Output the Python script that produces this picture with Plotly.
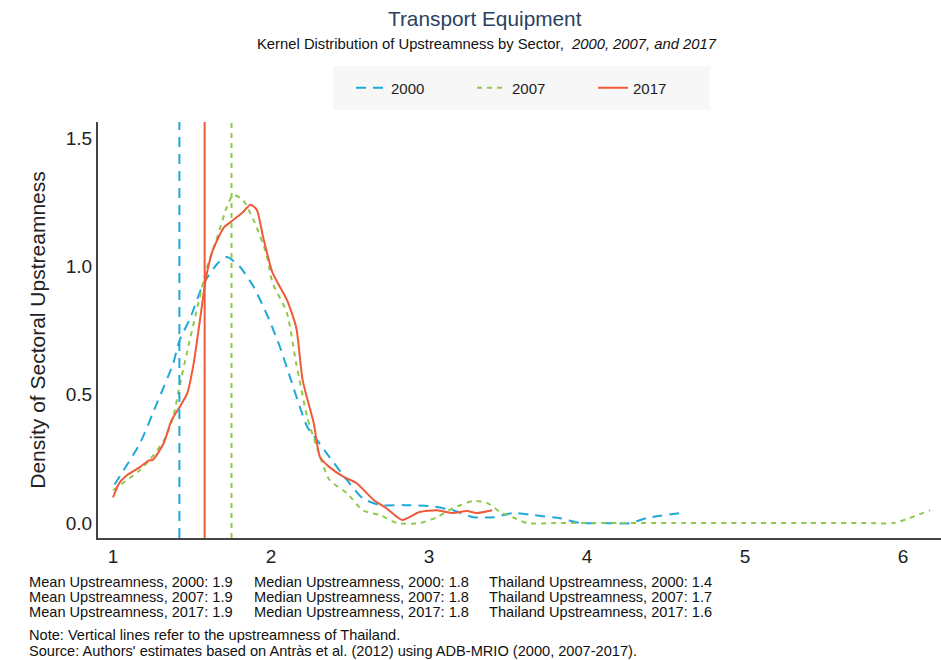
import plotly.graph_objects as go

# Kernel density estimates of sectoral upstreamness (x = upstreamness, y = density)
x_2000 = [1.01, 1.03, 1.17, 1.28, 1.38, 1.42, 1.49, 1.57, 1.66, 1.72, 1.80, 1.89, 1.99,
          2.06, 2.13, 2.23, 2.30, 2.37, 2.48, 2.58, 2.69, 2.84, 3.01, 3.15, 3.28, 3.41,
          3.53, 3.66, 3.83, 3.96, 4.10, 4.27, 4.38, 4.60]
y_2000 = [0.15, 0.17, 0.31, 0.47, 0.62, 0.71, 0.80, 0.93, 1.01, 1.036, 1.00, 0.92, 0.79,
          0.68, 0.55, 0.374, 0.316, 0.257, 0.168, 0.097, 0.07, 0.07, 0.066, 0.05, 0.023, 0.023,
          0.039, 0.031, 0.019, 0.0, 0.0, 0.0, 0.02, 0.04]

x_2007 = [1.00, 1.17, 1.23, 1.32, 1.38, 1.42, 1.47, 1.53, 1.59, 1.66, 1.72, 1.76, 1.82,
          1.89, 1.97, 2.01, 2.10, 2.16, 2.23, 2.29, 2.37, 2.48, 2.58, 2.69, 2.80, 2.94,
          3.05, 3.15, 3.28, 3.37, 3.45, 3.53, 3.62, 3.80, 4.20, 4.60, 5.00, 5.40, 5.80,
          5.94, 6.17]
y_2007 = [0.128, 0.206, 0.245, 0.32, 0.41, 0.53, 0.67, 0.83, 0.986, 1.114, 1.23, 1.278, 1.26,
          1.18, 1.05, 0.935, 0.82, 0.62, 0.41, 0.296, 0.168, 0.117, 0.05, 0.031, 0.0, 0.0,
          0.023, 0.058, 0.086, 0.078, 0.043, 0.023, 0.0, 0.0, 0.0, 0.0, 0.0, 0.0, 0.0,
          0.0, 0.05]

x_2017 = [1.00, 1.04, 1.09, 1.17, 1.23, 1.25, 1.32, 1.37, 1.42, 1.47, 1.51, 1.55, 1.59,
          1.63, 1.70, 1.76, 1.82, 1.87, 1.91, 1.95, 2.01, 2.10, 2.16, 2.20, 2.27, 2.31,
          2.37, 2.46, 2.54, 2.65, 2.73, 2.83, 2.94, 3.05, 3.15, 3.24, 3.30, 3.40]
y_2017 = [0.10, 0.156, 0.187, 0.218, 0.245, 0.245, 0.31, 0.40, 0.45, 0.506, 0.62, 0.79, 0.96,
          1.06, 1.15, 1.18, 1.21, 1.24, 1.22, 1.114, 0.974, 0.87, 0.76, 0.557, 0.39, 0.257,
          0.218, 0.18, 0.156, 0.09, 0.058, 0.012, 0.043, 0.05, 0.039, 0.047, 0.039, 0.05]

# Thailand's upstreamness per year (vertical reference lines)
thailand = {"2000": 1.42, "2007": 1.75, "2017": 1.58}

years = ["2000", "2007", "2017"]
colors = {"2000": "#1fa9d8", "2007": "#8fc94a", "2017": "#ef5a3a"}
dashes = {"2000": "10px,7px", "2007": "5px,5px", "2017": "solid"}
series = {"2000": (x_2000, y_2000), "2007": (x_2007, y_2007), "2017": (x_2017, y_2017)}

summary_mean = ["Mean Upstreamness, 2000: 1.9", "Mean Upstreamness, 2007: 1.9",
                "Mean Upstreamness, 2017: 1.9"]
summary_median = ["Median Upstreamness, 2000: 1.8", "Median Upstreamness, 2007: 1.8",
                  "Median Upstreamness, 2017: 1.8"]
summary_thai = ["Thailand Upstreamness, 2000: 1.4", "Thailand Upstreamness, 2007: 1.7",
                "Thailand Upstreamness, 2017: 1.6"]
notes = ["Note: Vertical lines refer to the upstreamness of Thailand.",
         "Source: Authors' estimates based on Antràs et al. (2012) using ADB-MRIO (2000, 2007-2017)."]

FONT = "Liberation Sans, Arial, sans-serif"

fig = go.Figure()
for yr in years:
    xs, ys = series[yr]
    fig.add_trace(go.Scatter(
        x=xs, y=ys, mode="lines", name=yr,
        line=dict(color=colors[yr], width=2, dash=dashes[yr], shape="spline", smoothing=0.6),
    ))

for yr in years:
    fig.add_shape(type="line", xref="x", yref="paper",
                  x0=thailand[yr], x1=thailand[yr], y0=0, y1=1,
                  line=dict(color=colors[yr], width=2, dash=dashes[yr]))

# Legend backdrop
fig.add_shape(type="rect", xref="paper", yref="paper",
              x0=(333 - 98) / 843, x1=(710 - 98) / 843,
              y0=(538 - 110) / 416, y1=(538 - 66) / 416,
              fillcolor="#f7f7f7", line=dict(width=0), layer="below")

annotations = [
    dict(text="Transport Equipment", x=0.459, y=(538 - 18) / 416, xref="paper", yref="paper",
         xanchor="center", yanchor="middle", showarrow=False,
         font=dict(size=20.8, color="#2a3f5f", family=FONT)),
    dict(text="Kernel Distribution of Upstreamness by Sector,  <i>2000, 2007, and 2017</i>",
         x=0.461, y=(538 - 44) / 416, xref="paper", yref="paper",
         xanchor="center", yanchor="middle", showarrow=False,
         font=dict(size=14.8, color="#111111", family=FONT)),
]

col_x = [27, 252, 487]
for col, texts in zip(col_x, [summary_mean, summary_median, summary_thai]):
    for i, t in enumerate(texts):
        annotations.append(dict(
            text=t, x=(col - 98) / 843, y=(538 - (582 + 15 * i)) / 416,
            xref="paper", yref="paper", xanchor="left", yanchor="middle",
            showarrow=False, font=dict(size=14.6, color="#111111", family=FONT)))
for i, t in enumerate(notes):
    annotations.append(dict(
        text=t, x=(27 - 98) / 843, y=(538 - (635 + 16 * i)) / 416,
        xref="paper", yref="paper", xanchor="left", yanchor="middle",
        showarrow=False, font=dict(size=14.6, color="#111111", family=FONT)))

fig.update_layout(
    width=941, height=660,
    margin=dict(l=98, r=0, t=122, b=122),
    paper_bgcolor="white", plot_bgcolor="white",
    font=dict(family=FONT, color="#222222"),
    showlegend=True,
    legend=dict(orientation="h", x=(333 + 18 - 98) / 843, xanchor="left",
                y=(538 - 88) / 416, yanchor="middle",
                bgcolor="rgba(0,0,0,0)", font=dict(size=15, color="#222222"),
                entrywidth=76, entrywidthmode="pixels"),
    annotations=annotations,
    xaxis=dict(range=[0.905, 6.24], tickvals=[1, 2, 3, 4, 5, 6], showgrid=False,
               zeroline=False, showline=True, linecolor="#444444", linewidth=2,
               ticks="", tickfont=dict(size=19, color="#222222"), ticklabelstandoff=0),
    yaxis=dict(range=[-0.058, 1.562], tickvals=[0, 0.5, 1.0, 1.5],
               ticktext=["0.0", "0.5", "1.0", "1.5"], showgrid=False, zeroline=False,
               showline=True, linecolor="#444444", linewidth=2, ticks="",
               tickfont=dict(size=19, color="#222222"),
               title=dict(text="Density of Sectoral Upstreamness",
                          font=dict(size=21, color="#222222"), standoff=14)),
)

fig.write_html("out.html")
